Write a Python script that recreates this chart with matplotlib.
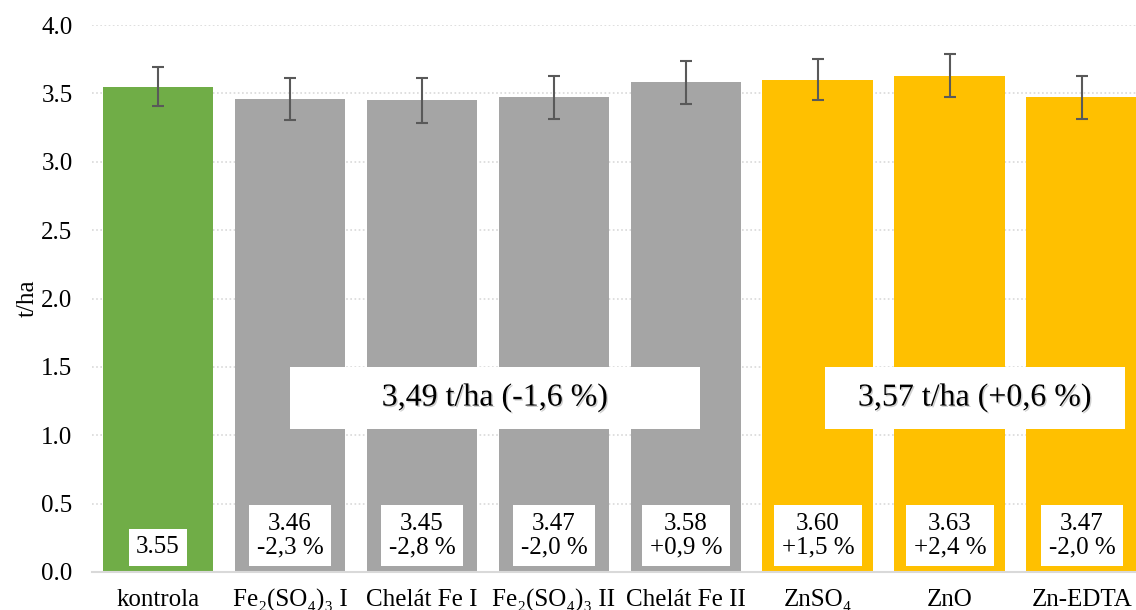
import matplotlib
matplotlib.use("Agg")
import matplotlib.pyplot as plt
import matplotlib.patheffects as pe
from matplotlib.patches import Rectangle
import numpy as np

# data
categories = ["kontrola", "Fe₂(SO₄)₃ I", "Chelát Fe I", "Fe₂(SO₄)₃ II",
              "Chelát Fe II", "ZnSO₄", "ZnO", "Zn-EDTA"]
yields = [3.55, 3.46, 3.45, 3.47, 3.58, 3.60, 3.63, 3.47]
errors = [0.14, 0.155, 0.165, 0.16, 0.155, 0.15, 0.16, 0.155]
changes = ["", "-2,3 %", "-2,8 %", "-2,0 %", "+0,9 %", "+1,5 %", "+2,4 %", "-2,0 %"]
groups = ["kontrola", "Fe", "Fe", "Fe", "Fe", "Zn", "Zn", "Zn"]
fe_summary = "3,49 t/ha (-1,6 %)"
zn_summary = "3,57 t/ha (+0,6 %)"

colors = {"kontrola": "#70AD47", "Fe": "#A5A5A5", "Zn": "#FFC000"}
fonts = ["Liberation Serif", "DejaVu Serif"]
plt.rcParams["font.family"] = fonts

fig = plt.figure(figsize=(11.36, 6.10), dpi=100)
ax = fig.add_axes([0.081, 0.0623, 0.919, 0.8967])

x = np.arange(len(categories))
ax.bar(x, yields, width=0.84, color=[colors[g] for g in groups], zorder=2)
ax.errorbar(x, yields, yerr=errors, fmt="none", ecolor="#595959",
            elinewidth=1.5, capsize=4.5, capthick=1.5, zorder=3)

# value labels inside bars
for i, (v, c) in enumerate(zip(yields, changes)):
    txt = f"{v:.2f}" if not c else f"{v:.2f}\n{c}"
    ax.text(i, 0.1, txt, ha="center", va="bottom", fontsize=18,
            linespacing=1.1, zorder=4,
            bbox=dict(boxstyle="square,pad=0.3", fc="white", ec="none"))

# group summaries
for (x0, x1), label in [((1.0, 4.106), fe_summary), ((5.05, 7.33), zn_summary)]:
    ax.add_patch(Rectangle((x0, 1.046), x1 - x0, 0.453, fc="white", ec="none", zorder=4))
    ax.text((x0 + x1) / 2, 1.272, label, ha="center", va="center", fontsize=23, zorder=5,
            path_effects=[pe.withSimplePatchShadow(offset=(1, -1), shadow_rgbFace="#888888", alpha=0.4)])

ax.set_xlim(-0.5, 7.41)
ax.set_ylim(0, 4.0)
ax.set_yticks(np.arange(0, 4.01, 0.5))
ax.set_yticklabels([f"{t:.1f}" for t in np.arange(0, 4.01, 0.5)], fontsize=18)
ax.set_xticks(x)
ax.set_xticklabels(categories, fontsize=18)
ax.tick_params(axis="both", length=0)
ax.tick_params(axis="x", pad=12)
ax.tick_params(axis="y", pad=14)
ax.set_ylabel("t/ha", fontsize=18, labelpad=2)

ax.grid(axis="y", linestyle=(0, (1, 1.5)), color="#D9D9D9", linewidth=1.2, zorder=0)
ax.set_axisbelow(True)
for s in ["top", "right", "left"]:
    ax.spines[s].set_visible(False)
ax.spines["bottom"].set_color("#D9D9D9")
ax.spines["bottom"].set_linewidth(1.5)

fig.savefig("out.png", dpi=100)
